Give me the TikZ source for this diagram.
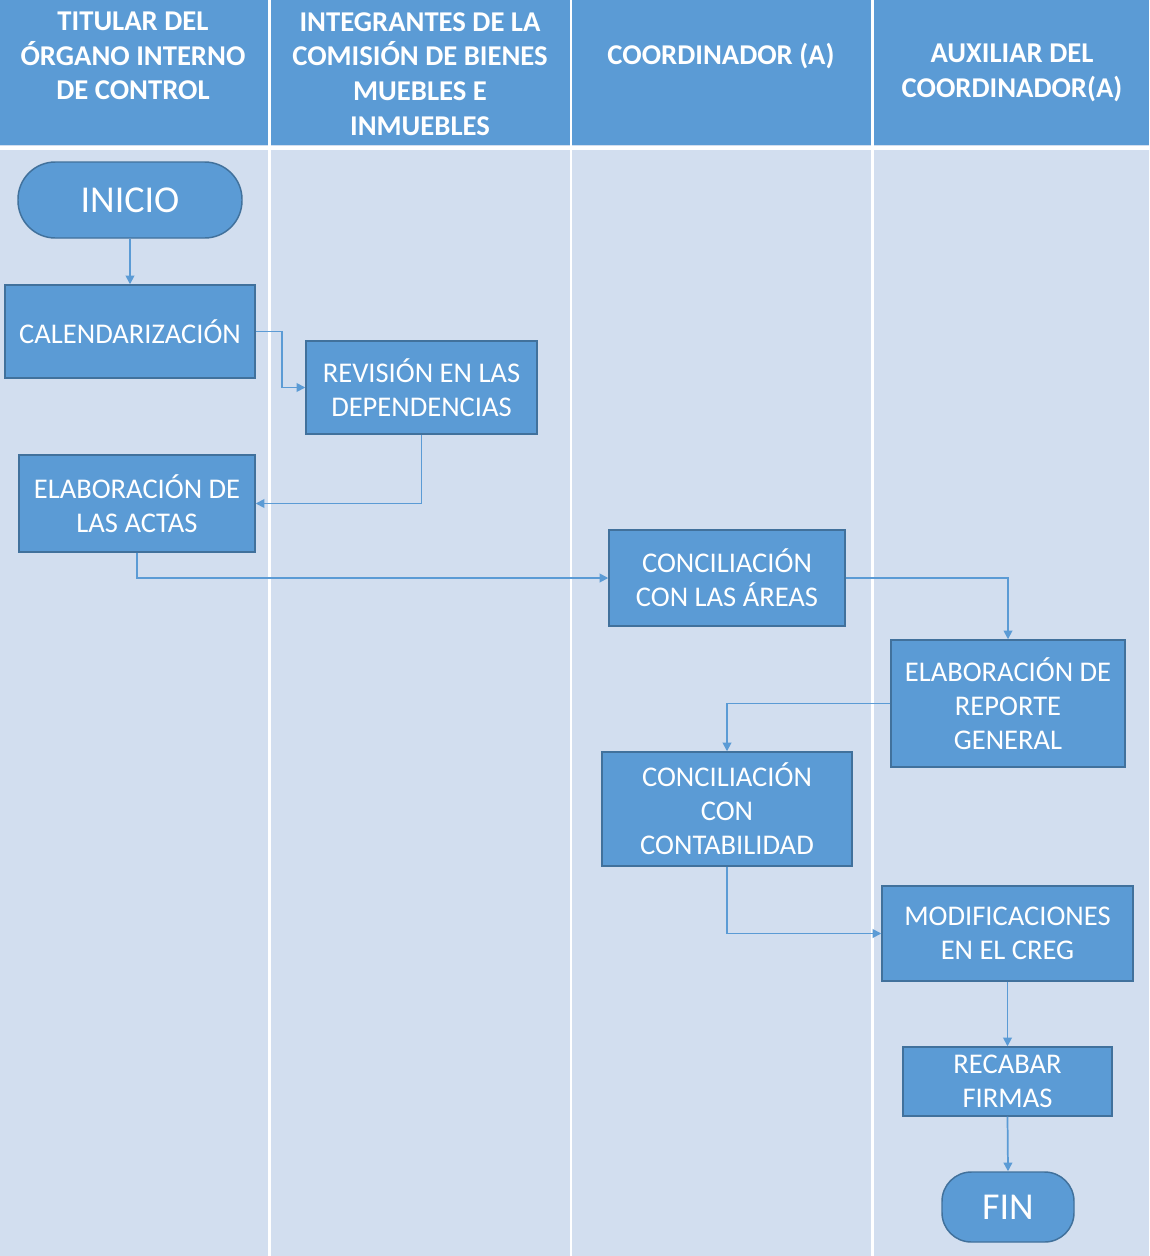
\documentclass[tikz,border=0pt]{standalone}
\usepackage{fontspec}
\setmainfont{Carlito}
\usetikzlibrary{arrows.meta, positioning}
\definecolor{laneblue}{HTML}{D2DEEF}
\definecolor{headblue}{HTML}{5B9BD5}
\definecolor{boxblue}{HTML}{5B9BD5}
\definecolor{edgeblue}{HTML}{41719C}

\begin{document}
\begin{tikzpicture}[x=0.75pt, y=-0.75pt,
    head/.style={text=white, align=center, font=\fontsize{21.5}{26}\selectfont\bfseries},
    proc/.style={draw=edgeblue, line width=1.1pt, fill=boxblue, text=white, align=center, inner sep=0pt, font=\fontsize{21.4}{25.5}\selectfont},
    term/.style={proc, font=\fontsize{28.5}{30}\selectfont},
    flow/.style={-{Triangle[width=6.5pt,length=6.5pt]}, draw=headblue, line width=1.3pt}
]
    % Lanes
    \useasboundingbox (0,0) rectangle (1149,1256);
    \fill[laneblue] (0,0) rectangle (1149,1256);
    \fill[headblue] (0,0) rectangle (1149,145);
    \draw[white, line width=3pt] (0,147.5) -- (1149,147.5);
    \foreach \lx in {269.5, 571, 872.5}
        \draw[white, line width=2pt] (\lx,0) -- (\lx,1256);

    % Headers
    \node[head] (h1) at (133,56) {TITULAR DEL\\ÓRGANO INTERNO\\DE CONTROL};
    \node[head] (h2) at (420,74) {INTEGRANTES DE LA\\COMISIÓN DE BIENES\\MUEBLES E\\INMUEBLES};
    \node[head] (h3) at (721,56) {COORDINADOR (A)};
    \node[head] (h4) at (1012,73) {AUXILIAR DEL\\COORDINADOR(A)};

    % Steps
    \node[term, rounded corners=28pt, minimum width=168pt, minimum height=57pt] (inicio) at (130,200) {INICIO};
    \node[proc, minimum width=187.5pt, minimum height=69.75pt] (cal) at (130,331.5) {CALENDARIZACIÓN};
    \node[proc, minimum width=173.25pt, minimum height=69.75pt] (rev) at (421.5,387.5) {REVISIÓN EN LAS\\DEPENDENCIAS};
    \node[proc, minimum width=177pt, minimum height=72.75pt] (actas) at (137,503.5) {ELABORACIÓN DE\\LAS ACTAS};
    \node[proc, minimum width=177pt, minimum height=72pt] (areas) at (727,578) {CONCILIACIÓN\\CON LAS ÁREAS};
    \node[proc, minimum width=175.5pt, minimum height=95.25pt] (reporte) at (1008,703.5) {ELABORACIÓN DE\\REPORTE\\GENERAL};
    \node[proc, minimum width=187.5pt, minimum height=85.5pt] (contab) at (727,809) {CONCILIACIÓN\\CON\\CONTABILIDAD};
    \node[proc, minimum width=188.25pt, minimum height=71.25pt] (creg) at (1007.5,933.5) {MODIFICACIONES\\EN EL CREG};
    \node[proc, minimum width=156.75pt, minimum height=51.75pt] (firmas) at (1007.5,1081.5) {RECABAR\\FIRMAS};
    \node[term, rounded corners=22pt, minimum width=99pt, minimum height=52.5pt] (fin) at (1008,1207) {FIN};

    % Arrows
    \draw[flow] (inicio.south) -- (cal.north);
    \draw[flow] (cal.east) -- ++(26,0) |- (rev.west);
    \draw[flow] (rev.south) |- (actas.east);
    \draw[flow] (actas.south) |- (areas.west);
    \draw[flow] (areas.east) -| (reporte.north);
    \draw[flow] (reporte.west) -| (contab.north);
    \draw[flow] (contab.south) |- (creg.west);
    \draw[flow] (creg.south) -- (firmas.north);
    \draw[flow] (firmas.south) -- (fin.north);
\end{tikzpicture}
\end{document}
